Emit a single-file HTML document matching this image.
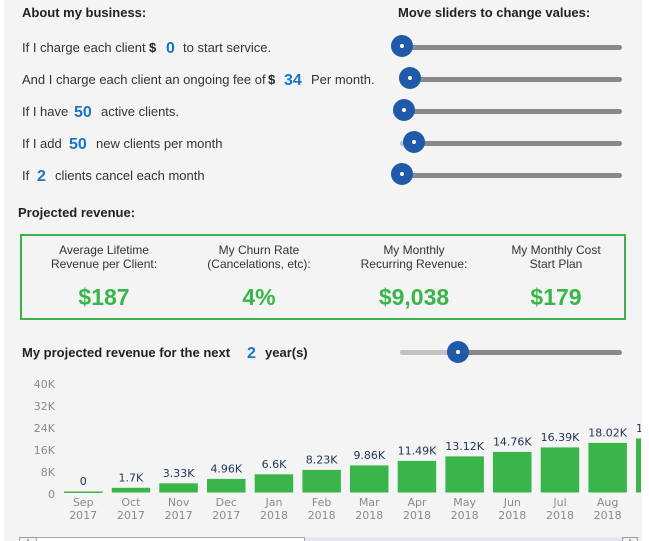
<!DOCTYPE html>
<html><head><meta charset="utf-8"><style>
*{margin:0;padding:0;box-sizing:border-box}
html,body{width:649px;height:541px;overflow:hidden;background:#fff}
body{position:relative;font-family:"Liberation Sans",Arial,sans-serif;color:#333}
#bg{position:absolute;left:4px;top:0;width:638px;height:541px;background:#f4f4f4}
.t{position:absolute;white-space:nowrap;font-size:13px;line-height:20px;height:20px}
.h{font-weight:bold;color:#222}
.b{font-weight:bold;color:#222}
.n{font-weight:bold;color:#1a74c6;font-size:16px}
.trk{position:absolute;left:400px;width:222px;height:5px;border-radius:3px;background:#888}
.lt{position:absolute;left:400px;height:5px;border-radius:3px;background:#c2c2c2}
.hd{position:absolute;width:22px;height:22px;border-radius:50%;background:#1f5aa8}
.hd:after{content:"";position:absolute;left:9px;top:9px;width:4px;height:4px;border-radius:50%;background:#fff}
#box{position:absolute;left:20px;top:234px;width:606px;height:86px;border:2px solid #3cb44b}
.lab{position:absolute;width:160px;text-align:center;font-size:12px;line-height:14px;color:#333;top:243px}
.val{position:absolute;width:160px;text-align:center;font-size:23px;font-weight:bold;color:#39b54a;line-height:26px;top:284px}
</style></head><body>
<div id="bg"></div>

<div class="t h" style="left:22px;top:3px">About my business:</div>
<div class="t h" style="left:398px;top:3px">Move sliders to change values:</div>

<div class="t" style="left:22px;top:38px">If I charge each client</div>
<div class="t b" style="left:149px;top:38px">$</div>
<div class="t n" style="left:166px;top:39px">0</div>
<div class="t" style="left:183px;top:38px">to start service.</div>

<div class="t" style="left:22px;top:70px">And I charge each client an ongoing fee of</div>
<div class="t b" style="left:268px;top:70px">$</div>
<div class="t n" style="left:284px;top:71px">34</div>
<div class="t" style="left:311px;top:70px">Per month.</div>

<div class="t" style="left:22px;top:102px">If I have</div>
<div class="t n" style="left:74px;top:103px">50</div>
<div class="t" style="left:101px;top:102px">active clients.</div>

<div class="t" style="left:22px;top:134px">If I add</div>
<div class="t n" style="left:69px;top:135px">50</div>
<div class="t" style="left:96px;top:134px">new clients per month</div>

<div class="t" style="left:22px;top:166px">If</div>
<div class="t n" style="left:37px;top:167px">2</div>
<div class="t" style="left:55px;top:166px">clients cancel each month</div>

<div class="trk" style="top:45px"></div><div class="hd" style="left:391px;top:35px"></div>
<div class="trk" style="top:77px"></div><div class="hd" style="left:399px;top:67px"></div>
<div class="trk" style="top:109px"></div><div class="hd" style="left:393px;top:99px"></div>
<div class="trk" style="top:141px"></div><div class="lt" style="top:141px;width:16px"></div><div class="hd" style="left:403px;top:131px"></div>
<div class="trk" style="top:173px"></div><div class="hd" style="left:391px;top:163px"></div>

<div class="t h" style="left:18px;top:203px">Projected revenue:</div>

<div id="box"></div>
<div class="lab" style="left:24px">Average Lifetime<br>Revenue per Client:</div>
<div class="lab" style="left:179px">My Churn Rate<br>(Cancelations, etc):</div>
<div class="lab" style="left:334px">My Monthly<br>Recurring Revenue:</div>
<div class="lab" style="left:476px">My Monthly Cost<br>Start Plan</div>
<div class="val" style="left:24px">$187</div>
<div class="val" style="left:179px">4%</div>
<div class="val" style="left:334px">$9,038</div>
<div class="val" style="left:476px">$179</div>

<div class="t h" style="left:22px;top:343px">My projected revenue for the next</div>
<div class="t n" style="left:247px;top:344px">2</div>
<div class="t h" style="left:265px;top:343px">year(s)</div>
<div class="trk" style="top:350px"></div><div class="lt" style="top:350px;width:60px"></div><div class="hd" style="left:447px;top:341px"></div>

<svg style="position:absolute;left:0;top:0" width="641" height="541" viewBox="0 0 641 541">
<g font-family="'DejaVu Sans',Verdana,sans-serif" font-size="11" fill="#8a8a8a" text-anchor="end">
<text x="55" y="388">40K</text><text x="55" y="410">32K</text><text x="55" y="432">24K</text>
<text x="55" y="454">16K</text><text x="55" y="476">8K</text><text x="55" y="498">0</text>
</g>
<g fill="#39b54a">
<rect x="64" y="491.5" width="38.5" height="1.5"/>
<rect x="111.7" y="487.8" width="38.5" height="4.7"/>
<rect x="159.3" y="483.3" width="38.5" height="9.2"/>
<rect x="207" y="478.9" width="38.5" height="13.6"/>
<rect x="254.7" y="474.3" width="38.5" height="18.2"/>
<rect x="302.4" y="469.9" width="38.5" height="22.6"/>
<rect x="350" y="465.4" width="38.5" height="27.1"/>
<rect x="397.7" y="460.9" width="38.5" height="31.6"/>
<rect x="445.4" y="456.4" width="38.5" height="36.1"/>
<rect x="493" y="451.9" width="38.5" height="40.6"/>
<rect x="540.7" y="447.4" width="38.5" height="45.1"/>
<rect x="588.4" y="442.9" width="38.5" height="49.6"/>
<rect x="636" y="438.5" width="38.5" height="54"/>
</g>
<g font-family="'DejaVu Sans',Verdana,sans-serif" font-size="11" fill="#22355a" text-anchor="middle">
<text x="83.2" y="485">0</text>
<text x="130.9" y="481.3">1.7K</text>
<text x="178.6" y="476.8">3.33K</text>
<text x="226.3" y="472.4">4.96K</text>
<text x="274" y="467.8">6.6K</text>
<text x="321.6" y="463.4">8.23K</text>
<text x="369.3" y="458.9">9.86K</text>
<text x="417" y="454.4">11.49K</text>
<text x="464.6" y="449.9">13.12K</text>
<text x="512.3" y="445.4">14.76K</text>
<text x="560" y="440.9">16.39K</text>
<text x="607.6" y="436.4">18.02K</text>
<text x="655.3" y="432">19.65K</text>
</g>
<g font-family="'DejaVu Sans',Verdana,sans-serif" font-size="11" fill="#8a8a8a" text-anchor="middle">
<text x="83.2" y="506">Sep</text><text x="83.2" y="519">2017</text>
<text x="130.9" y="506">Oct</text><text x="130.9" y="519">2017</text>
<text x="178.6" y="506">Nov</text><text x="178.6" y="519">2017</text>
<text x="226.3" y="506">Dec</text><text x="226.3" y="519">2017</text>
<text x="274" y="506">Jan</text><text x="274" y="519">2018</text>
<text x="321.6" y="506">Feb</text><text x="321.6" y="519">2018</text>
<text x="369.3" y="506">Mar</text><text x="369.3" y="519">2018</text>
<text x="417" y="506">Apr</text><text x="417" y="519">2018</text>
<text x="464.6" y="506">May</text><text x="464.6" y="519">2018</text>
<text x="512.3" y="506">Jun</text><text x="512.3" y="519">2018</text>
<text x="560" y="506">Jul</text><text x="560" y="519">2018</text>
<text x="607.6" y="506">Aug</text><text x="607.6" y="519">2018</text>
</g>
<rect x="305" y="537.5" width="318" height="5" fill="#e6e7ec"/>
<rect x="19.5" y="537.5" width="17" height="6" fill="#f2f2f2" stroke="#999"/>
<line x1="28" y1="539" x2="28" y2="541" stroke="#555"/>
<rect x="36.5" y="537.5" width="268" height="6" fill="#fff" stroke="#a8a8a8"/>
<rect x="622.5" y="537.5" width="15" height="6" fill="#f2f2f2" stroke="#999"/>
<line x1="630" y1="539" x2="630" y2="541" stroke="#555"/>
</svg>
</body></html>
